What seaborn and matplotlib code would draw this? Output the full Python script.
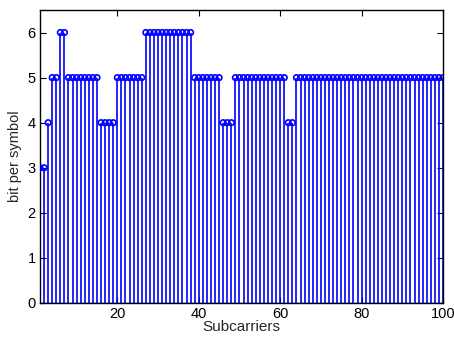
import numpy as np
import pandas as pd
import matplotlib
matplotlib.use("Agg")
import matplotlib.pyplot as plt
import seaborn as sns

# Data: bits per symbol for each of 100 subcarriers
subcarriers = list(range(1, 101))
bits = ([3, 3, 4, 5, 5, 6, 6] + [5] * 8 + [4] * 4 + [5] * 7 + [6] * 12 +
        [5] * 7 + [4] * 3 + [5] * 13 + [4] * 2 + [5] * 37)
x_ticks = [20, 40, 60, 80, 100]
y_ticks = [0, 1, 2, 3, 4, 5, 6]

df = pd.DataFrame({"Subcarriers": subcarriers, "bits": bits})

sns.set_style("white")
plt.rcParams['font.family'] = ['Liberation Sans', 'DejaVu Sans']

fig = plt.figure(figsize=(4.54, 3.40), dpi=100)
ax = fig.add_axes([40 / 454, 1 - 303 / 340, 403 / 454, 293 / 340])

ax.vlines(df["Subcarriers"], 0, df["bits"], color="#0000ff", linewidth=1.2)
sns.scatterplot(data=df, x="Subcarriers", y="bits", ax=ax, marker="o",
                facecolor="none", edgecolor="#0000ff", linewidth=1.2, s=16,
                legend=False, zorder=3)
ax.axhline(0, color="#0000ff", linewidth=1.0)

ax.set_xlim(1, 100)
ax.set_ylim(0, 6.5)
ax.set_xticks(x_ticks)
ax.set_yticks(y_ticks)
ax.tick_params(direction="in", length=4, width=0.8, labelsize=10.5, pad=3,
               top=True, right=True, bottom=True, left=True, colors="black")
for s in ax.spines.values():
    s.set_color("black")
    s.set_linewidth(1.0)
    s.set_visible(True)
ax.set_xlabel("Subcarriers", fontsize=11, labelpad=-1)
ax.set_ylabel("bit per symbol", fontsize=10.5, labelpad=4)

fig.savefig("out.png", dpi=100)
